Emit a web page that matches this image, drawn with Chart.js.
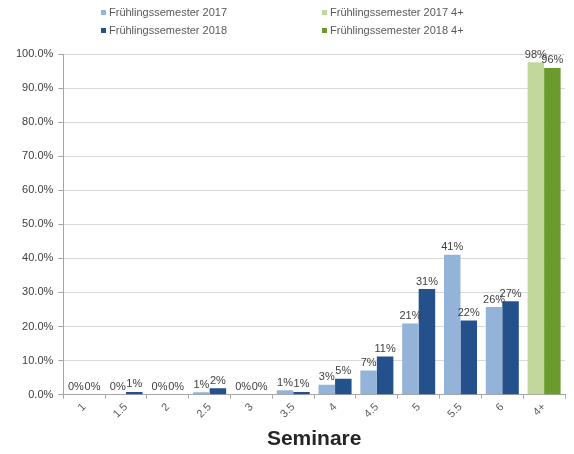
<!DOCTYPE html>
<html>
<head>
<meta charset="utf-8">
<script src="https://cdn.jsdelivr.net/npm/chart.js@4.4.1/dist/chart.umd.min.js"></script>
<style>
  html, body { margin: 0; padding: 0; background: #ffffff; }
  #wrap { position: relative; width: 574px; height: 454px; }
  #legend { position: absolute; left: 0; top: 0; width: 574px; height: 44px;
            font-family: "Liberation Sans", Arial, sans-serif; font-size: 11px; color: #595959; }
  .li { position: absolute; height: 14px; line-height: 14px; white-space: nowrap; }
  .li span.box { display: inline-block; width: 5px; height: 5px; margin-right: 3px; vertical-align: 1px; }
</style>
</head>
<body>
<div id="wrap">
  <canvas id="c" width="574" height="454"></canvas>
  <div id="legend"></div>
</div>
<script>
const categories = ['1', '1.5', '2', '2.5', '3', '3.5', '4', '4.5', '5', '5.5', '6', '4+'];
const spring2017 = [0, 0, 0, 0.7, 0, 1.3, 2.9, 7.1, 20.9, 41.1, 25.7, null];
const spring2018 = [0, 0.8, 0, 1.9, 0, 0.8, 4.7, 11.2, 31.0, 21.8, 27.4, null];
const spring2017plus = [null, null, null, null, null, null, null, null, null, null, null, 97.6];
const spring2018plus = [null, null, null, null, null, null, null, null, null, null, null, 95.9];
const seriesNames = ['Frühlingssemester 2017', 'Frühlingssemester 2018', 'Frühlingssemester 2017 4+', 'Frühlingssemester 2018 4+'];
const seriesColors = ['#94b3d9', '#24518c', '#c2d79c', '#6c9b2d'];
const yTicks = [0, 10, 20, 30, 40, 50, 60, 70, 80, 90, 100];
const axisTitle = 'Seminare';

// HTML legend (2 x 2 grid)
const legendPos = [
  {i: 0, left: 101, top: 5},
  {i: 2, left: 322, top: 5},
  {i: 1, left: 101, top: 23},
  {i: 3, left: 322, top: 23}
];
const legendEl = document.getElementById('legend');
legendPos.forEach(p => {
  const d = document.createElement('div');
  d.className = 'li';
  d.style.left = p.left + 'px';
  d.style.top = p.top + 'px';
  const b = document.createElement('span');
  b.className = 'box';
  b.style.background = seriesColors[p.i];
  d.appendChild(b);
  d.appendChild(document.createTextNode(seriesNames[p.i]));
  legendEl.appendChild(d);
});

const valueLabels = {
  id: 'valueLabels',
  afterDatasetsDraw(chart) {
    const ctx = chart.ctx;
    ctx.save();
    ctx.font = '11px "Liberation Sans", Arial, sans-serif';
    ctx.fillStyle = '#404040';
    ctx.textAlign = 'center';
    ctx.textBaseline = 'bottom';
    chart.data.datasets.forEach((ds, di) => {
      const meta = chart.getDatasetMeta(di);
      meta.data.forEach((el, i) => {
        const v = ds.data[i];
        if (v === null || v === undefined) return;
        ctx.fillText(Math.round(v) + '%', el.x, el.y - 2);
      });
    });
    ctx.restore();
  }
};

new Chart(document.getElementById('c'), {
  type: 'bar',
  data: {
    labels: categories,
    datasets: [
      {label: seriesNames[0], data: spring2017, backgroundColor: seriesColors[0], stack: 'a'},
      {label: seriesNames[2], data: spring2017plus, backgroundColor: seriesColors[2], stack: 'a'},
      {label: seriesNames[1], data: spring2018, backgroundColor: seriesColors[1], stack: 'b'},
      {label: seriesNames[3], data: spring2018plus, backgroundColor: seriesColors[3], stack: 'b'}
    ]
  },
  options: {
    responsive: false,
    animation: false,
    events: [],
    datasets: { bar: { categoryPercentage: 0.79, barPercentage: 1.0 } },
    layout: { padding: { top: 54, left: 11, right: 9, bottom: 2 } },
    plugins: {
      legend: { display: false },
      tooltip: { enabled: false }
    },
    scales: {
      x: {
        stacked: true,
        grid: { drawOnChartArea: false, drawTicks: true, tickLength: 4, color: '#a6a6a6' },
        border: { color: '#a6a6a6' },
        ticks: {
          minRotation: 45, maxRotation: 45, padding: 2,
          color: '#595959',
          font: { family: '"Liberation Sans", Arial, sans-serif', size: 11 }
        },
        title: {
          display: true, text: axisTitle, color: '#262626',
          font: { family: '"Liberation Sans", Arial, sans-serif', size: 21, weight: 'bold' },
          padding: { top: 4, bottom: 0 }
        }
      },
      y: {
        stacked: true,
        min: 0, max: 100,
        afterBuildTicks(scale) { scale.ticks = yTicks.map(v => ({value: v})); },
        grid: { color: '#d9d9d9', tickLength: 5, tickColor: '#a6a6a6' },
        border: { color: '#a6a6a6' },
        ticks: {
          padding: 5,
          color: '#404040',
          font: { family: '"Liberation Sans", Arial, sans-serif', size: 11 },
          callback: v => v.toFixed(1) + '%'
        }
      }
    }
  },
  plugins: [valueLabels]
});
</script>
</body>
</html>
